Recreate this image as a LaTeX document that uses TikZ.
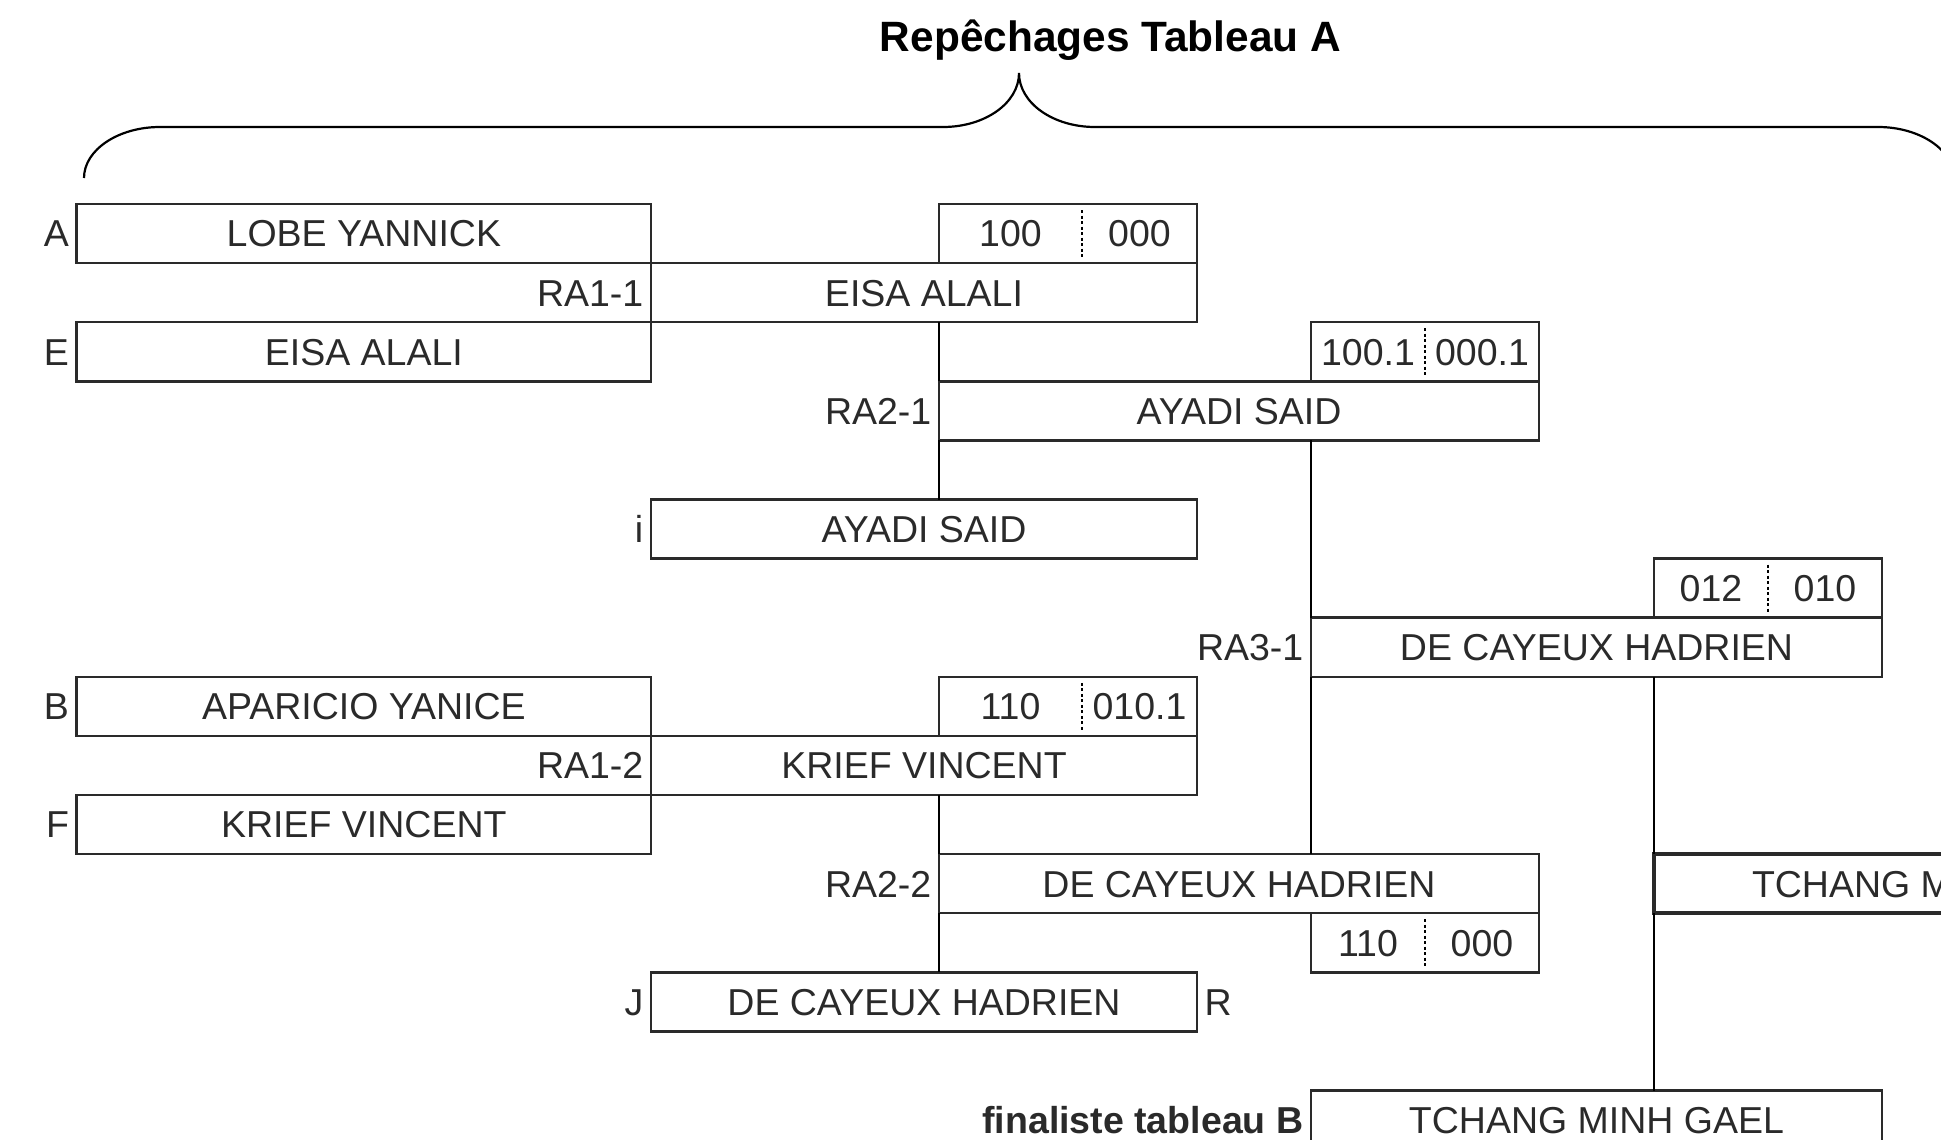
\documentclass[tikz,border=0pt]{standalone}
\usepackage{fontspec}
\setmainfont{Liberation Sans}
\definecolor{ink}{HTML}{2A2A2A}
\newcommand\nmfont{\fontsize{37.5pt}{45pt}\selectfont}
\newcommand\ttlfont{\fontsize{42.4pt}{50pt}\selectfont\bfseries}
\tikzset{
  namebox/.style={draw=ink, line width=2.5pt, minimum height=59.1pt, inner sep=0pt, outer sep=0pt,
    anchor=north west, font=\nmfont, text=ink, text height=26.85pt, text depth=0pt},
  thickbox/.style={namebox, line width=4.5pt},
  scorebox/.style={draw=ink, line width=2.5pt, minimum height=59.1pt, inner sep=0pt, outer sep=0pt,
    anchor=north west},
  num/.style={font=\nmfont, text=ink, inner sep=0pt, text height=26.85pt, text depth=0pt},
  lbl/.style={font=\nmfont, text=ink, inner sep=0pt, text height=26.85pt, text depth=0pt},
  lblleft/.style={lbl, anchor=east, xshift=-7.5pt},
  lblright/.style={lbl, anchor=west, xshift=7.5pt},
  divider/.style={draw=black, line width=2.6pt, dash pattern=on 3pt off 2.5pt},
  conn/.style={draw=black, line width=2.4pt},
  bracestyle/.style={draw=black, line width=2.2pt},
}
\begin{document}
\begin{tikzpicture}[x=1pt, y=-1pt]
\useasboundingbox (0,0) rectangle (1941,1140);
\path[clip] (0,0) rectangle (1941,1140);

% title and brace
\node[font=\ttlfont, text=black, anchor=base, inner sep=0pt] (title) at (1110.5,52) {Repêchages Tableau A};
\draw[bracestyle] (84,178) .. controls (84,150) and (118,127) .. (160,127)
  -- (943,127) .. controls (985,127) and (1019,103) .. (1019,73)
  .. controls (1019,103) and (1053,127) .. (1095,127)
  -- (1878,127) .. controls (1920,127) and (1954,150) .. (1954,178);

% first column
\node[namebox, minimum width=574.3pt] (A) at (76.7,204) {LOBE YANNICK};
\node[namebox, minimum width=574.3pt] (E) at (76.7,322.2) {EISA ALALI};
\node[namebox, minimum width=574.3pt] (B) at (76.7,676.8) {APARICIO YANICE};
\node[namebox, minimum width=574.3pt] (F) at (76.7,795) {KRIEF VINCENT};
\node[lblleft] (lA) at (A.west) {A};
\node[lblleft] (lE) at (E.west) {E};
\node[lblleft] (lB) at (B.west) {B};
\node[lblleft] (lF) at (F.west) {F};

% round 1
\node[namebox, minimum width=546pt] (RA11) at (651,263.1) {EISA ALALI};
\node[namebox, minimum width=546pt] (RA12) at (651,735.9) {KRIEF VINCENT};
\node[namebox, minimum width=546pt] (I) at (651,499.5) {AYADI SAID};
\node[namebox, minimum width=546pt] (J) at (651,972.3) {DE CAYEUX HADRIEN};
\node[lblleft] (lRA11) at (RA11.west) {RA1-1};
\node[lblleft] (lRA12) at (RA12.west) {RA1-2};
\node[lblleft] (lI) at (I.west) {i};
\node[lblleft] (lJ) at (J.west) {J};
\node[lblright] (lR) at (J.east) {R};

% round 2
\node[namebox, minimum width=600pt] (RA21) at (939,381.3) {AYADI SAID};
\node[namebox, minimum width=600pt] (RA22) at (939,854.1) {DE CAYEUX HADRIEN};
\node[lblleft] (lRA21) at (RA21.west) {RA2-1};
\node[lblleft] (lRA22) at (RA22.west) {RA2-2};

% round 3
\node[namebox, minimum width=571pt] (RA31) at (1311,617.7) {DE CAYEUX HADRIEN};
\node[lblleft] (lRA31) at (RA31.west) {RA3-1};
\node[thickbox, minimum width=571pt] (T) at (1654,854.1) {TCHANG MINH GAEL};
\node[namebox, minimum width=571pt] (FB) at (1311,1090.5) {TCHANG MINH GAEL};
\node[lblleft, font=\nmfont\bfseries] (lFB) at (FB.west) {finaliste tableau B};

% score boxes
\node[scorebox, minimum width=258pt] (S1) at (939,204) {};
\draw[divider] (1082,210) -- (1082,258);
\node[num] (S1a) at (1010.5,233.55) {100};
\node[num] (S1b) at (1139.5,233.55) {000};

\node[scorebox, minimum width=228pt] (S2) at (1311,322.2) {};
\draw[divider] (1425,328.2) -- (1425,376.2);
\node[num] (S2a) at (1368,351.75) {100.1};
\node[num] (S2b) at (1482,351.75) {000.1};

\node[scorebox, minimum width=228pt] (S3) at (1654,558.6) {};
\draw[divider] (1768,564.6) -- (1768,612.6);
\node[num] (S3a) at (1711,588.15) {012};
\node[num] (S3b) at (1825,588.15) {010};

\node[scorebox, minimum width=258pt] (S4) at (939,676.8) {};
\draw[divider] (1082,682.8) -- (1082,730.8);
\node[num] (S4a) at (1010.5,706.35) {110};
\node[num] (S4b) at (1139.5,706.35) {010.1};

\node[scorebox, minimum width=228pt] (S5) at (1311,913.2) {};
\draw[divider] (1425,919.2) -- (1425,967.2);
\node[num] (S5a) at (1368,942.75) {110};
\node[num] (S5b) at (1482,942.75) {000};

% connectors
\draw[conn] (RA11.south -| RA21.west) -- (RA21.north west);
\draw[conn] (RA21.south west) -- (I.north -| RA21.west);
\draw[conn] (RA21.south -| RA31.west) -- (RA31.north west);
\draw[conn] (RA31.south west) -- (RA22.north -| RA31.west);
\draw[conn] (RA31.south -| T.west) -- (T.north west);
\draw[conn] (T.south west) -- (FB.north -| T.west);
\draw[conn] (RA12.south -| RA22.west) -- (RA22.north west);
\draw[conn] (RA22.south west) -- (J.north -| RA22.west);
\end{tikzpicture}
\end{document}
